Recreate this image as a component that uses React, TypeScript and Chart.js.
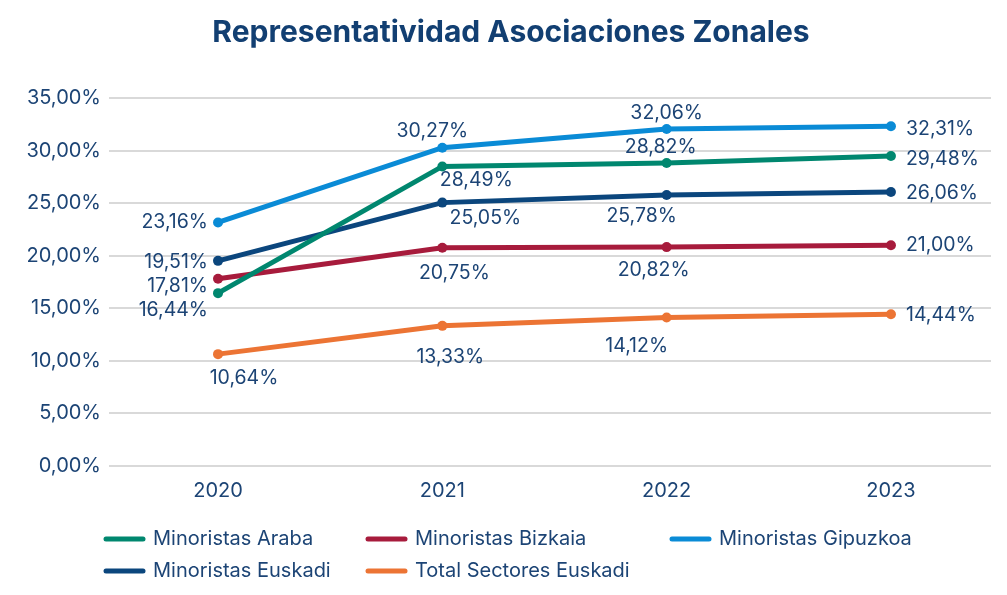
import React, { useEffect, useRef } from "react";
import { Chart, registerables } from "chart.js";

Chart.register(...registerables);

const title = "Representatividad Asociaciones Zonales";
const years = ["2020", "2021", "2022", "2023"];
const seriesNames = [
  "Minoristas Araba",
  "Minoristas Bizkaia",
  "Minoristas Gipuzkoa",
  "Minoristas Euskadi",
  "Total Sectores Euskadi",
];
const araba = [16.44, 28.49, 28.82, 29.48];
const bizkaia = [17.81, 20.75, 20.82, 21.0];
const gipuzkoa = [23.16, 30.27, 32.06, 32.31];
const euskadi = [19.51, 25.05, 25.78, 26.06];
const total = [10.64, 13.33, 14.12, 14.44];
const yTicks = [0, 5, 10, 15, 20, 25, 30, 35];

const colors = ["#00876f", "#a71b3c", "#0a8bd6", "#0b467d", "#ec7434"];
const textColor = "#1c4475";
const FONT = "Inter";

// label placement relative to each point: [dx, dy, align]
type LP = [number, number, CanvasTextAlign];
const labelPlacement: LP[][] = [
  [[-10, 17, "right"], [34, 14, "center"], [-6, -16, "center"], [15, 3, "left"]],
  [[-10, 7, "right"], [12, 25, "center"], [-13, 23, "center"], [15, 0, "left"]],
  [[-10, 0, "right"], [-10, -17, "center"], [0, -16, "center"], [15, 3, "left"]],
  [[-10, 1, "right"], [43, 16, "center"], [-25, 21, "center"], [15, 1, "left"]],
  [[26, 24, "center"], [8, 31, "center"], [-30, 29, "center"], [15, 1, "left"]],
];

const fmt = (v: number) => v.toFixed(2).replace(".", ",") + "%";

const labelsPlugin = {
  id: "pointLabels",
  afterDatasetsDraw(chart: any) {
    const ctx = chart.ctx;
    ctx.save();
    ctx.font = `19.5px ${FONT}`;
    ctx.fillStyle = textColor;
    ctx.textBaseline = "middle";
    chart.data.datasets.forEach((ds: any, di: number) => {
      const meta = chart.getDatasetMeta(di);
      meta.data.forEach((pt: any, i: number) => {
        const [dx, dy, align] = labelPlacement[di][i];
        ctx.textAlign = align;
        ctx.fillText(fmt(ds.data[i].y), pt.x + dx, pt.y + dy);
      });
    });
    ctx.restore();
  },
};

const titleLegendPlugin = {
  id: "titleLegend",
  afterDraw(chart: any) {
    const ctx = chart.ctx;
    ctx.save();
    ctx.font = `bold 30px ${FONT}`;
    ctx.fillStyle = "#123f72";
    ctx.textAlign = "center";
    ctx.textBaseline = "middle";
    ctx.fillText(title, 511, 33);

    const cols = [103, 365, 669];
    const rows = [539, 571];
    ctx.font = `20px ${FONT}`;
    ctx.textAlign = "left";
    chart.data.datasets.forEach((ds: any, i: number) => {
      const x = cols[i % 3];
      const y = rows[Math.floor(i / 3)];
      ctx.strokeStyle = ds.borderColor;
      ctx.lineWidth = 5;
      ctx.lineCap = "round";
      ctx.beginPath();
      ctx.moveTo(x + 3, y);
      ctx.lineTo(x + 40, y);
      ctx.stroke();
      ctx.fillStyle = textColor;
      ctx.fillText(ds.label, x + 50, y);
    });
    ctx.restore();
  },
};

export default function App() {
  const ref = useRef<HTMLCanvasElement | null>(null);
  useEffect(() => {
    document.body.style.margin = "0";
    const values = [araba, bizkaia, gipuzkoa, euskadi, total];
    const chart = new Chart(ref.current as HTMLCanvasElement, {
      type: "line",
      data: {
        datasets: values.map((vals, di) => ({
          label: seriesNames[di],
          data: vals.map((v, i) => ({ x: i, y: v })),
          borderColor: colors[di],
          backgroundColor: colors[di],
          borderWidth: 5,
          pointRadius: 5,
          pointHoverRadius: 5,
          pointBorderWidth: 0,
          tension: 0,
        })),
      },
      options: {
        animation: false,
        responsive: false,
        layout: { padding: { left: 9, right: 16, top: 98, bottom: 89 } },
        plugins: {
          legend: { display: false },
          title: { display: false },
          tooltip: { enabled: false },
        },
        scales: {
          x: {
            type: "linear",
            min: -0.486,
            max: 3.446,
            afterBuildTicks: (s: any) => {
              s.ticks = years.map((_, i) => ({ value: i }));
            },
            afterFit: (s: any) => {
              s.height = 40;
            },
            grid: { display: false, drawTicks: false },
            border: { display: false },
            ticks: {
              padding: 13,
              color: textColor,
              font: { family: FONT, size: 20 },
              callback: (v: any) => years[v as number] ?? "",
              maxRotation: 0,
              autoSkip: false,
            },
          },
          y: {
            min: 0,
            max: 35,
            afterBuildTicks: (s: any) => {
              s.ticks = yTicks.map((v) => ({ value: v }));
            },
            afterFit: (s: any) => {
              s.width = 100;
            },
            grid: { color: "#d9d9d9", lineWidth: 2, drawTicks: false },
            border: { display: false },
            ticks: {
              padding: 8,
              color: textColor,
              font: { family: FONT, size: 20 },
              callback: (v: any) => fmt(Number(v)),
            },
          },
        },
      },
      plugins: [labelsPlugin, titleLegendPlugin],
    });
    return () => chart.destroy();
  }, []);
  return (
    <div style={{ width: 1007, height: 595, background: "#fff" }}>
      <canvas ref={ref} width={1007} height={595} />
    </div>
  );
}
